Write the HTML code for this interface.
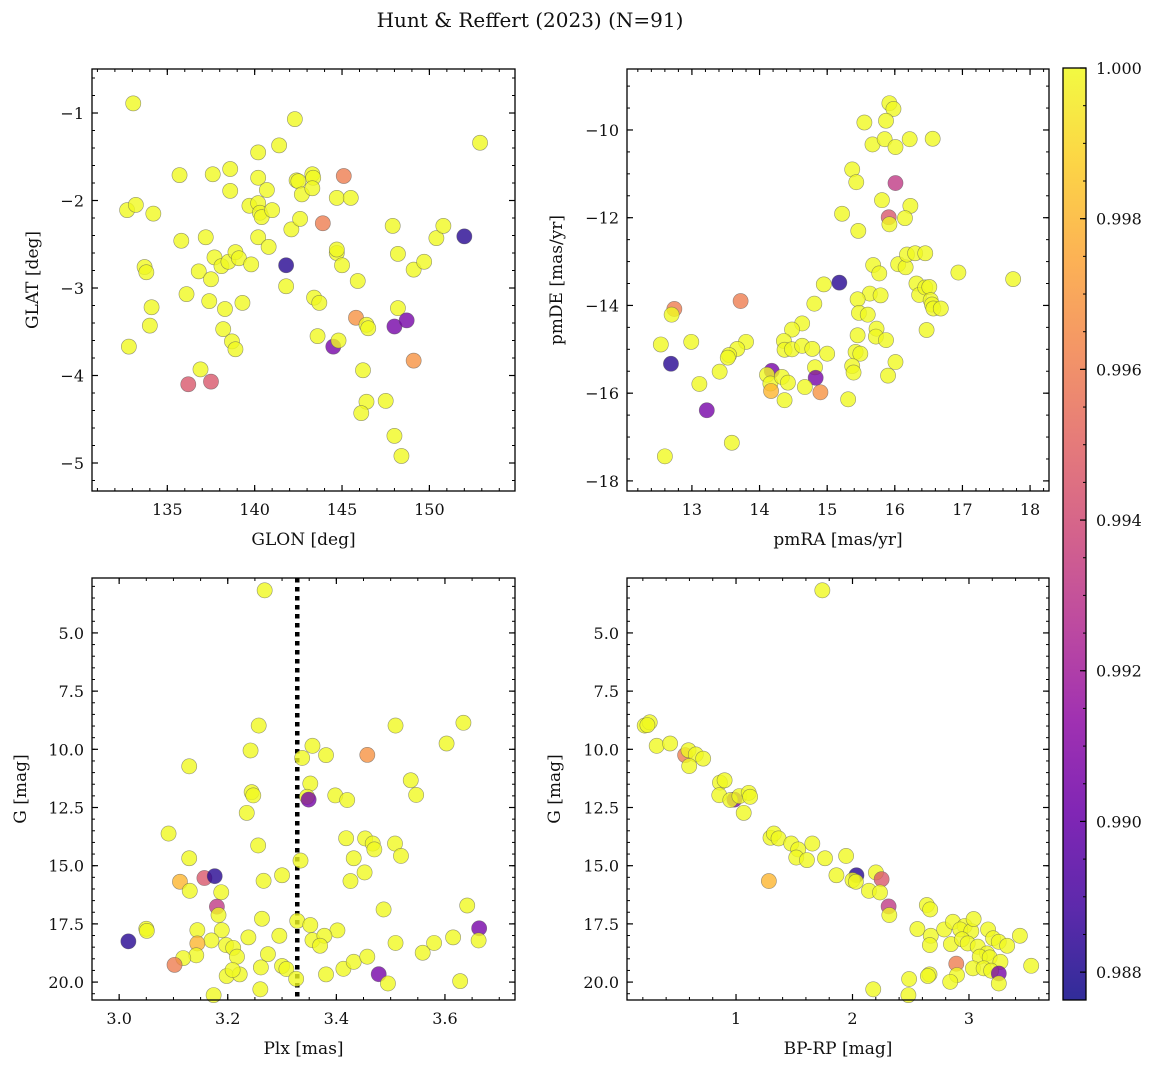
<!DOCTYPE html>
<html><head><meta charset="utf-8"><style>
body{margin:0;background:#fff;}
svg text{font-family:"DejaVu Serif","Liberation Serif",serif;fill:#111;}
</style></head><body>
<svg id="fig" width="1161" height="1068" xmlns="http://www.w3.org/2000/svg">
<text x="530" y="27" font-size="20" text-anchor="middle">Hunt &amp; Reffert (2023) (N=91)</text>
</svg>
<script>
// probability class values
const P = {y:1.0, m:0.9932, pr:0.9945, c:0.996, o:0.9968, lo:0.998, p:0.9905, d:0.9882};
// Panel 1: GLON / GLAT
const glon = [133.05,132.7,133.2,134.2,133.7,133.8,134.1,134.0,132.8,135.7,135.8,136.1,136.2,136.8,136.9,137.2,137.5,137.4,137.5,137.6,137.7,138.1,138.3,138.2,138.6,138.6,138.5,138.9,139.1,138.7,138.9,139.3,139.7,139.8,140.2,140.2,140.2,140.3,140.4,140.2,140.7,140.8,141.0,141.4,141.8,141.8,142.1,142.3,142.4,142.5,142.6,142.7,143.3,143.35,143.3,143.4,143.7,143.6,143.9,144.7,144.7,144.7,145.0,144.5,144.8,145.1,145.5,145.9,145.8,146.2,146.4,146.5,146.4,146.1,147.5,147.9,148.2,148.2,148.0,148.0,148.4,148.7,149.1,149.1,149.7,150.4,150.8,152.0,152.9];
const glat = [-0.89,-2.11,-2.05,-2.15,-2.76,-2.82,-3.22,-3.43,-3.67,-1.71,-2.46,-3.07,-4.10,-2.81,-3.93,-2.42,-2.90,-3.15,-4.07,-1.70,-2.65,-2.75,-3.24,-3.47,-1.64,-1.89,-2.70,-2.59,-2.66,-3.61,-3.70,-3.17,-2.06,-2.73,-1.45,-1.74,-2.03,-2.14,-2.19,-2.42,-1.88,-2.53,-2.11,-1.37,-2.74,-2.98,-2.33,-1.07,-1.77,-1.78,-2.21,-1.93,-1.70,-1.74,-1.86,-3.11,-3.17,-3.55,-2.26,-2.60,-2.56,-1.97,-2.74,-3.67,-3.60,-1.72,-1.97,-2.92,-3.34,-3.94,-3.42,-3.46,-4.30,-4.43,-4.29,-2.29,-2.61,-3.23,-3.44,-4.69,-4.92,-3.37,-2.79,-3.83,-2.70,-2.43,-2.29,-2.41,-1.34];
const prob1 = ['y','y','y','y','y','y','y','y','y','y','y','y','pr','y','y','y','y','y','pr','y','y','y','y','y','y','y','y','y','y','y','y','y','y','y','y','y','y','y','y','y','y','y','y','y','d','y','y','y','y','y','y','y','y','y','y','y','y','y','c','y','y','y','y','p','y','c','y','y','o','y','y','y','y','y','y','y','y','y','p','y','y','p','y','o','y','y','y','d','y'];
// Panel 2: pmRA / pmDE
const pmra = [15.92,15.98,15.55,15.87,15.67,15.85,16.01,16.22,16.56,15.37,15.43,16.01,15.81,16.23,15.22,15.46,15.91,15.92,16.15,15.68,15.77,16.05,16.16,16.18,16.30,16.45,16.94,17.75,15.18,14.95,14.81,15.63,15.79,15.45,15.47,15.60,16.32,16.36,16.45,16.51,16.53,16.55,16.57,16.68,16.47,15.73,15.72,15.87,15.45,15.42,15.49,15.37,15.39,15.31,16.01,15.90,14.63,14.48,14.36,14.37,14.48,14.63,14.78,15.00,14.82,14.83,14.67,14.90,14.18,14.11,14.16,14.17,14.33,14.42,14.37,13.72,13.80,13.67,13.55,13.53,13.41,13.11,12.99,12.74,12.70,12.54,12.69,13.22,13.59,12.60];
const pmde = [-9.39,-9.52,-9.83,-9.79,-10.33,-10.21,-10.39,-10.21,-10.20,-10.90,-11.19,-11.21,-11.60,-11.73,-11.91,-12.30,-11.99,-12.15,-12.01,-13.08,-13.27,-13.06,-13.13,-12.84,-12.81,-12.81,-13.25,-13.40,-13.48,-13.52,-13.96,-13.73,-13.77,-13.86,-14.17,-14.21,-13.50,-13.76,-13.59,-13.58,-13.88,-13.98,-14.07,-14.07,-14.56,-14.53,-14.71,-14.79,-14.68,-15.06,-15.10,-15.38,-15.53,-16.14,-15.29,-15.60,-14.41,-14.55,-14.81,-15.01,-15.00,-14.92,-14.99,-15.10,-15.41,-15.65,-15.86,-15.98,-15.49,-15.58,-15.78,-15.95,-15.63,-15.76,-16.16,-13.90,-14.83,-14.99,-15.13,-15.19,-15.51,-15.79,-14.83,-14.08,-14.21,-14.89,-15.33,-16.39,-17.13,-17.44];
const prob2 = ['y','y','y','y','y','y','y','y','y','y','y','m','y','y','y','y','pr','y','y','y','y','y','y','y','y','y','y','y','d','y','y','y','y','y','y','y','y','y','y','y','y','y','y','y','y','y','y','y','y','y','y','y','y','y','y','y','y','y','y','y','y','y','y','y','y','p','y','o','p','y','y','lo','y','y','y','c','y','y','y','y','y','y','y','c','y','y','d','p','y','y'];
// Panel 3: Plx / G
const plx = [3.268,3.257,3.509,3.634,3.603,3.356,3.242,3.337,3.381,3.457,3.129,3.352,3.537,3.547,3.244,3.247,3.346,3.349,3.398,3.420,3.235,3.091,3.256,3.418,3.453,3.467,3.470,3.508,3.519,3.129,3.334,3.432,3.452,3.426,3.300,3.266,3.112,3.157,3.176,3.130,3.188,3.180,3.183,3.487,3.641,3.263,3.328,3.352,3.402,3.663,3.050,3.051,3.144,3.189,3.017,3.170,3.144,3.142,3.118,3.102,3.197,3.210,3.217,3.238,3.295,3.356,3.378,3.370,3.274,3.261,3.300,3.308,3.326,3.381,3.413,3.432,3.457,3.478,3.495,3.509,3.559,3.580,3.615,3.662,3.628,3.198,3.222,3.209,3.174,3.260];
const gmag3 = [3.17,8.98,8.98,8.86,9.75,9.85,10.05,10.37,10.25,10.24,10.73,11.47,11.33,11.96,11.84,11.98,12.04,12.16,11.98,12.18,12.73,13.62,14.13,13.82,13.83,14.05,14.30,14.05,14.58,14.68,14.78,14.68,15.29,15.66,15.41,15.65,15.69,15.53,15.45,16.08,16.14,16.76,17.12,16.88,16.71,17.28,17.37,17.55,17.78,17.69,17.71,17.80,17.77,17.77,18.25,18.21,18.34,18.85,18.97,19.26,18.41,18.53,18.91,18.08,18.01,18.20,18.01,18.44,18.80,19.37,19.31,19.44,19.86,19.67,19.43,19.13,18.91,19.66,20.06,18.32,18.74,18.32,18.08,18.21,19.96,19.74,19.67,19.48,20.56,20.31];
const prob3 = ['y','y','y','y','y','y','y','y','y','o','y','y','y','y','y','y','y','p','y','y','y','y','y','y','y','y','y','y','y','y','y','y','y','y','y','y','lo','pr','d','y','y','m','y','y','y','y','y','y','y','p','y','y','y','y','d','y','lo','y','y','c','y','y','y','y','y','y','y','y','y','y','y','y','y','y','y','y','y','p','y','y','y','y','y','y','y','y','y','y','y','y'];
const plxLine = [3.328];
// Panel 4: BP-RP / G
const bprp = [1.741,0.216,0.259,0.239,0.319,0.434,0.563,0.592,0.655,0.718,0.598,0.862,0.902,0.856,0.986,0.951,1.029,1.109,1.121,1.066,1.296,1.325,1.365,1.474,1.534,1.517,1.609,1.655,1.764,1.945,1.282,1.862,2.034,2.000,2.029,2.201,2.250,2.141,2.236,2.310,2.316,2.638,2.667,2.557,2.672,2.664,2.787,2.862,2.845,2.963,2.925,3.020,3.040,2.940,2.989,3.075,3.164,3.207,3.256,3.328,3.437,3.155,3.092,3.178,3.270,2.891,2.897,3.034,3.126,3.190,3.256,3.256,2.839,2.661,2.647,2.486,2.178,2.480,3.534];
const gmag4 = [3.17,8.98,8.84,8.96,9.85,9.75,10.25,10.04,10.22,10.40,10.72,11.43,11.33,11.97,12.16,12.18,12.01,11.87,12.04,12.73,13.80,13.62,13.83,14.05,14.30,14.65,14.76,14.05,14.68,14.58,15.66,15.41,15.41,15.62,15.69,15.29,15.58,16.08,16.15,16.75,17.12,16.69,16.88,17.72,18.01,18.41,17.74,17.41,18.37,17.59,17.74,17.81,17.29,18.16,18.34,18.48,17.74,18.12,18.27,18.44,18.01,18.77,18.91,18.94,19.13,19.21,19.70,19.41,19.41,19.51,19.63,20.06,19.99,19.67,19.74,19.87,20.31,20.56,19.30];
const prob4 = ['y','y','y','y','y','y','c','y','y','y','y','y','y','y','p','y','y','y','y','y','y','y','y','y','y','y','y','y','y','y','lo','y','d','y','y','y','pr','y','y','m','y','y','y','y','y','y','y','y','y','y','y','y','y','y','y','y','y','y','y','y','y','y','y','y','y','c','y','y','y','y','p','y','y','y','y','y','y','y','y'];
// colorbar ticks
const cbTicks = [0.988,0.990,0.992,0.994,0.996,0.998,1.000];
const VMIN = 0.98763, VMAX = 1.0;

const NS = 'http://www.w3.org/2000/svg';
const svg = document.getElementById('fig');
function mk(tag, attrs, parent){const e=document.createElementNS(NS,tag);for(const k in attrs)e.setAttribute(k,attrs[k]);(parent||svg).appendChild(e);return e;}
const stops=['#0d0887','#41049d','#6a00a8','#8f0da4','#b12a90','#cc4778','#e16462','#f2844b','#fca636','#fcce25','#f0f921'];
function hex(h){return [parseInt(h.substr(1,2),16),parseInt(h.substr(3,2),16),parseInt(h.substr(5,2),16)];}
function plasma(t){t=Math.max(0,Math.min(1,t));const f=t*10,i=Math.min(9,Math.floor(f)),u=f-i;const a=hex(stops[i]),b=hex(stops[i+1]);return 'rgb('+a.map((v,k)=>Math.round(v+(b[k]-v)*u)).join(',')+')';}
function col(v){return plasma((v-VMIN)/(VMAX-VMIN));}
function fmt(v,d){const s=v.toFixed(d);return s.replace('-','\u2212');}

function panel(cfg){
  const {x0,x1,y0,y1,xmin,xmax,ymin,ymax,invY,name}=cfg;
  const sx=v=>x0+(v-xmin)/(xmax-xmin)*(x1-x0);
  const sy=v=>invY? y0+(v-ymin)/(ymax-ymin)*(y1-y0) : y1-(v-ymin)/(ymax-ymin)*(y1-y0);
  const g=mk('g',{});
  
  
  const eps=1e-9;
  function ticks(min,max,step){const a=[];for(let v=Math.ceil(min/step-eps)*step;v<=max+eps;v+=step)a.push(Math.round(v/step)*step);return a;}
  ticks(xmin,xmax,cfg.xminor).forEach(v=>{const X=sx(v);mk('line',{x1:X,x2:X,y1:y1,y2:y1-3,stroke:'#000','stroke-width':1},g);mk('line',{x1:X,x2:X,y1:y0,y2:y0+3,stroke:'#000','stroke-width':1},g);});
  ticks(ymin,ymax,cfg.yminor).forEach(v=>{const Y=sy(v);mk('line',{x1:x0,x2:x0+3,y1:Y,y2:Y,stroke:'#000','stroke-width':1},g);mk('line',{x1:x1,x2:x1-3,y1:Y,y2:Y,stroke:'#000','stroke-width':1},g);});
  ticks(xmin,xmax,cfg.xmajor).forEach(v=>{const X=sx(v);mk('line',{x1:X,x2:X,y1:y1,y2:y1-6,stroke:'#000','stroke-width':1.2},g);mk('line',{x1:X,x2:X,y1:y0,y2:y0+6,stroke:'#000','stroke-width':1.2},g);
    const t=mk('text',{x:X,y:y1+24,'font-size':16,'text-anchor':'middle'},g);t.textContent=fmt(v,cfg.xd);
    
    });
  ticks(ymin,ymax,cfg.ymajor).forEach(v=>{const Y=sy(v);mk('line',{x1:x0,x2:x0+6,y1:Y,y2:Y,stroke:'#000','stroke-width':1.2},g);mk('line',{x1:x1,x2:x1-6,y1:Y,y2:Y,stroke:'#000','stroke-width':1.2},g);
    const t=mk('text',{x:x0-8,y:Y+6,'font-size':16,'text-anchor':'end'},g);t.textContent=fmt(v,cfg.yd);
    
    });
  if(cfg.vline!==undefined){const X=sx(cfg.vline);const l=mk('line',{x1:X,x2:X,y1:y0,y2:y1,stroke:'#000','stroke-width':4.5,'stroke-dasharray':'4.5 4.5'},g);
    
    }
  cfg.xs.forEach((v,i)=>{const X=sx(v),Y=sy(cfg.ys[i]);if(X<x0-8||X>x1+8)return;
    const c=mk('circle',{cx:X,cy:Y,r:7.6,fill:col(P[cfg.ps[i]]),'fill-opacity':0.8,stroke:'#555','stroke-opacity':0.6,'stroke-width':0.6},g);
    
    });
  const fr=mk('rect',{x:x0,y:y0,width:x1-x0,height:y1-y0,fill:'none',stroke:'#000','stroke-width':1.3},g);
  
  
  const xl=mk('text',{x:(x0+x1)/2,y:y1+54,'font-size':17,'text-anchor':'middle'},g);xl.textContent=cfg.xlabel;
  
  
  const yl=mk('text',{x:0,y:0,'font-size':17,'text-anchor':'middle',transform:'translate('+(cfg.ylx)+','+((y0+y1)/2)+') rotate(-90)'},g);yl.textContent=cfg.ylabel;
  
  
}
panel({name:'glon-glat',x0:92,x1:515,y0:69,y1:491,xmin:130.69,xmax:154.9,ymin:-5.32,ymax:-0.497,xmajor:5,xminor:1,ymajor:1,yminor:0.2,xd:0,yd:0,xs:glon,ys:glat,ps:prob1,xlabel:'GLON [deg]',ylabel:'GLAT [deg]',ylx:38});
panel({name:'proper-motion',x0:627,x1:1049,y0:69,y1:491,xmin:12.04,xmax:18.28,ymin:-18.23,ymax:-8.61,xmajor:1,xminor:0.2,ymajor:2,yminor:0.5,xd:0,yd:0,xs:pmra,ys:pmde,ps:prob2,xlabel:'pmRA [mas/yr]',ylabel:'pmDE [mas/yr]',ylx:562});
panel({name:'plx-g',x0:92,x1:515,y0:578,y1:1000,xmin:2.950,xmax:3.729,ymin:2.64,ymax:20.77,invY:true,xmajor:0.2,xminor:0.05,ymajor:2.5,yminor:0.5,xd:1,yd:1,xs:plx,ys:gmag3,ps:prob3,vline:plxLine[0],xlabel:'Plx [mas]',ylabel:'G [mag]',ylx:26});
panel({name:'cmd',x0:627,x1:1049,y0:578,y1:1000,xmin:0.064,xmax:3.687,ymin:2.64,ymax:20.77,invY:true,xmajor:1,xminor:0.2,ymajor:2.5,yminor:0.5,xd:0,yd:1,xs:bprp,ys:gmag4,ps:prob4,xlabel:'BP-RP [mag]',ylabel:'G [mag]',ylx:560});

const defs=mk('defs',{});const lg=mk('linearGradient',{id:'cbg',x1:0,y1:1,x2:0,y2:0},defs);
for(let i=0;i<=10;i++)mk('stop',{offset:(i*10)+'%','stop-color':stops[i]},lg);
const cbx0=1063,cbx1=1086,cby0=68,cby1=1000;
const cb=mk('rect',{x:cbx0,y:cby0,width:cbx1-cbx0,height:cby1-cby0,fill:'url(#cbg)','fill-opacity':0.85,stroke:'#000','stroke-width':1.3});


const cy=v=>cby1-(v-VMIN)/(VMAX-VMIN)*(cby1-cby0);
for(let v=0.988;v<=1.0001;v+=0.0005){const Y=cy(v);mk('line',{x1:cbx1,x2:cbx1-3,y1:Y,y2:Y,stroke:'#000','stroke-width':1});}
cbTicks.forEach(v=>{const Y=cy(v);mk('line',{x1:cbx1,x2:cbx1-6,y1:Y,y2:Y,stroke:'#000','stroke-width':1.2});
  const t=mk('text',{x:1096,y:Y+6,'font-size':16});t.textContent=v.toFixed(3);
  
  });
</script>
</body></html>
